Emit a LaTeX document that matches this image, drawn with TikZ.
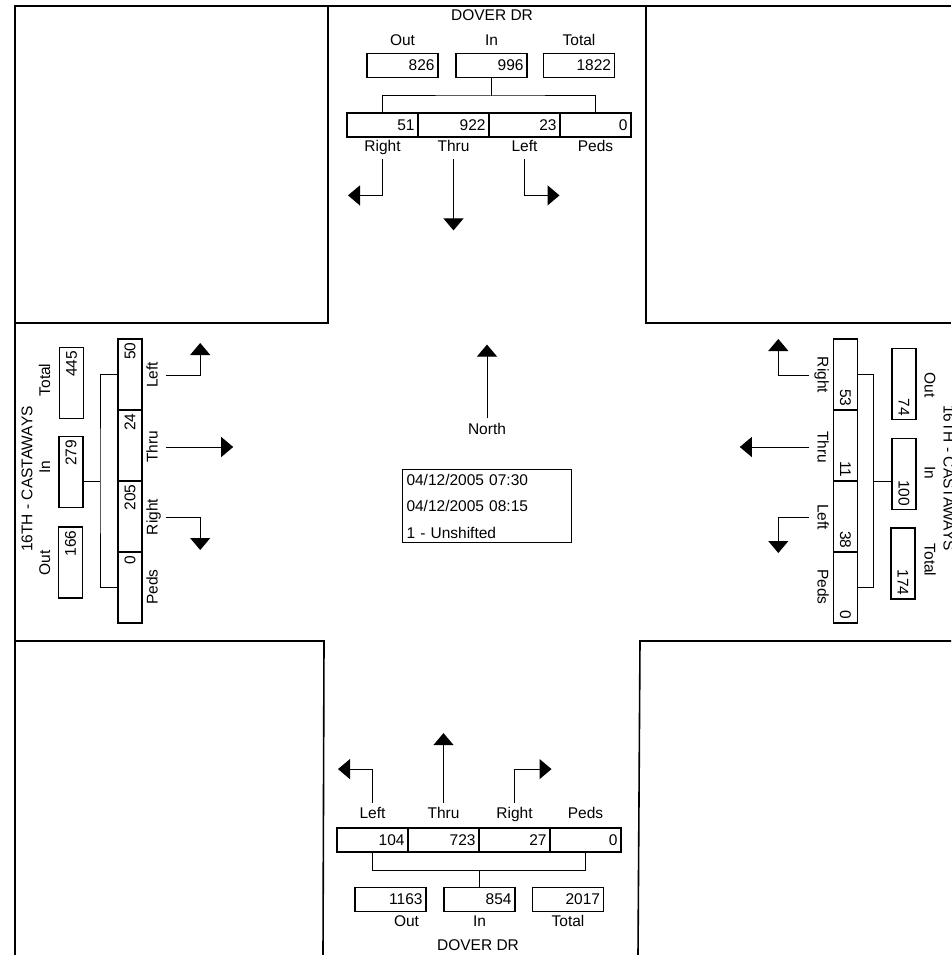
\documentclass[tikz,border=0pt]{standalone}
\usepackage{fontspec}
\setmainfont{Liberation Sans}
\usetikzlibrary{arrows.meta,positioning,calc}

\begin{document}
\begin{tikzpicture}[x=1pt, y=-1pt,
  every node/.style={font=\fontsize{15.5}{18}\selectfont, inner sep=1pt},
  numbox/.style={draw, line width=1.1pt, outer sep=0pt, text width=#1, align=right,
    minimum height=24pt, inner xsep=3.5pt, inner ysep=0pt},
  numbox/.default=64pt,
  lbl/.style={text height=11pt, text depth=3pt},
  turn/.style={line width=1pt, shorten <=4pt, -{Triangle[length=12pt,width=20pt]}},
  link/.style={line width=1pt},
  curb/.style={line width=1.6pt}]
  \useasboundingbox (0,0) rectangle (951,955);
  \clip (0,0) rectangle (951,955);

  % curbs of the four corners
  \draw[curb] (951,6) -- (15,6) -- (15,955);
  \draw[curb] (328,6) -- (328,323) -- (15,323);
  \draw[curb] (646,6) -- (646,323) -- (951,323);
  \draw[curb] (15,641) -- (324,641) -- (323,955);
  \draw[curb] (951,641) -- (640,641) -- (638,955);

  % north leg
  \node (nName) at (492,15) {DOVER DR};
  \node[numbox] (nOut) at (402.5,65.5) {826};
  \node[numbox] (nIn) at (491.5,65.5) {996};
  \node[numbox] (nTot) at (579,65.5) {1822};
  \node[lbl] (nOutL) [above=4pt of nOut] {Out};
  \node[lbl] (nInL) [above=4pt of nIn] {In};
  \node[lbl] (nTotL) [above=4pt of nTot] {Total};
  \node[numbox] (nRt) at (382.5,125) {51};
  \node[numbox] (nTh) [right=0pt of nRt] {922};
  \node[numbox] (nLt) [right=0pt of nTh] {23};
  \node[numbox] (nPd) [right=0pt of nLt] {0};
  \node[lbl] (nRtL) [below=2pt of nRt] {Right};
  \node[lbl] (nThL) [below=2pt of nTh] {Thru};
  \node[lbl] (nLtL) [below=2pt of nLt] {Left};
  \node[lbl] (nPdL) [below=2pt of nPd] {Peds};
  \draw[link] (nIn.south) -- ++(0,18.5) coordinate (nBar);
  \draw[link] (nRt.north) |- (nBar) -| (nPd.north);
  \draw[turn] (nRtL.south) |- ++(-34.5,40);
  \draw[turn] (nThL.south) -- ++(0,75);
  \draw[turn] (nLtL.south) |- ++(35,40);

  % south leg
  \node[numbox] (sLt) at (372.5,840) {104};
  \node[numbox] (sTh) [right=0pt of sLt] {723};
  \node[numbox] (sRt) [right=0pt of sTh] {27};
  \node[numbox] (sPd) [right=0pt of sRt] {0};
  \node[lbl] (sLtL) [above=5pt of sLt] {Left};
  \node[lbl] (sThL) [above=5pt of sTh] {Thru};
  \node[lbl] (sRtL) [above=5pt of sRt] {Right};
  \node[lbl] (sPdL) [above=5pt of sPd] {Peds};
  \node[numbox] (sOut) at (390.5,899.5) {1163};
  \node[numbox] (sIn) at (479.5,899.5) {854};
  \node[numbox] (sTot) at (568,899.5) {2017};
  \node[lbl] (sOutL) [below=3pt of sOut, xshift=16pt] {Out};
  \node[lbl] (sInL) [below=3pt of sIn] {In};
  \node[lbl] (sTotL) [below=3pt of sTot] {Total};
  \node (sName) at (478,945) {DOVER DR};
  \draw[link] (sIn.north) -- ++(0,-17.5) coordinate (sBar);
  \draw[link] (sLt.south) |- (sBar) -| (sPd.south);
  \draw[turn] (sLtL.north) |- ++(-34.5,-37.5);
  \draw[turn] (sThL.north) -- ++(0,-73.5);
  \draw[turn] (sRtL.north) |- ++(37,-37.5);

  % west leg
  \node[rotate=90] (wName) at (27,479) {16TH - CASTAWAYS};
  \node[lbl,rotate=90] (wTotL) at (46,380) {Total};
  \node[lbl,rotate=90] (wInL) at (46,467) {In};
  \node[lbl,rotate=90] (wOutL) at (46,563) {Out};
  \node[numbox,rotate=90] (wTot) at (71.5,383) {445};
  \node[numbox,rotate=90] (wIn) at (71,472) {279};
  \node[numbox,rotate=90] (wOut) at (70.5,562.5) {166};
  \node[numbox,rotate=90] (wLt) at (130,374.5) {50};
  \node[numbox,rotate=90] (wTh) at (130,445.5) {24};
  \node[numbox,rotate=90] (wRt) at (130,516.5) {205};
  \node[numbox,rotate=90] (wPd) at (130,587.5) {0};
  \node[lbl,rotate=90] (wLtL) at (153.5,375) {Left};
  \node[lbl,rotate=90] (wThL) at (153.5,447) {Thru};
  \node[lbl,rotate=90] (wRtL) at (153.5,517) {Right};
  \node[lbl,rotate=90] (wPdL) at (153.5,587) {Peds};
  \coordinate (wBar) at (100,481);
  \draw[link] (wIn.south |- wBar) -- (wBar);
  \draw[link] (wLt.north) -| (wBar) |- (wPd.north);
  \draw[turn] (wLtL.south) -| ++(38.5,-32);
  \draw[turn] (wThL.south) -- ++(71.5,0);
  \draw[turn] (wRtL.south) -| ++(38.5,33);

  % east leg
  \node[rotate=-90] (eName) at (949,478) {16TH - CASTAWAYS};
  \node[lbl,rotate=-90] (eOutL) at (928.5,385) {Out};
  \node[lbl,rotate=-90] (eInL) at (928.5,473) {In};
  \node[lbl,rotate=-90] (eTotL) at (928.5,560) {Total};
  \node[numbox,rotate=-90] (eOut) at (904,384) {74};
  \node[numbox,rotate=-90] (eIn) at (904,474) {100};
  \node[numbox,rotate=-90] (eTot) at (903,563.5) {174};
  \node[numbox,rotate=-90] (eRt) at (845.5,374.5) {53};
  \node[numbox,rotate=-90] (eTh) at (845.5,445.5) {11};
  \node[numbox,rotate=-90] (eLt) at (845.5,516.5) {38};
  \node[numbox,rotate=-90] (ePd) at (845.5,587.5) {0};
  \node[lbl,rotate=-90] (eRtL) at (821.5,375) {Right};
  \node[lbl,rotate=-90] (eThL) at (821.5,447) {Thru};
  \node[lbl,rotate=-90] (eLtL) at (821.5,517) {Left};
  \node[lbl,rotate=-90] (ePdL) at (821.5,587) {Peds};
  \coordinate (eBar) at (873,481);
  \draw[link] (eIn.south |- eBar) -- (eBar);
  \draw[link] (eRt.north) -| (eBar) |- (ePd.north);
  \draw[turn] (eRtL.south) -| ++(-35,-36);
  \draw[turn] (eThL.south) -- ++(-73.5,0);
  \draw[turn] (eLtL.south) -| ++(-35,36);

  % centre
  \node (north) at (487,429) {North};
  \draw[turn] (north.north) -- ++(0,-77.5);
  \node[draw, line width=1pt, text width=160pt, align=left, inner xsep=4.5pt, inner ysep=4pt,
    font=\fontsize{15.5}{26.5}\selectfont] (info) at (486.5,506)
    {04/12/2005 07:30\\04/12/2005 08:15\\1 - Unshifted};
\end{tikzpicture}
\end{document}
